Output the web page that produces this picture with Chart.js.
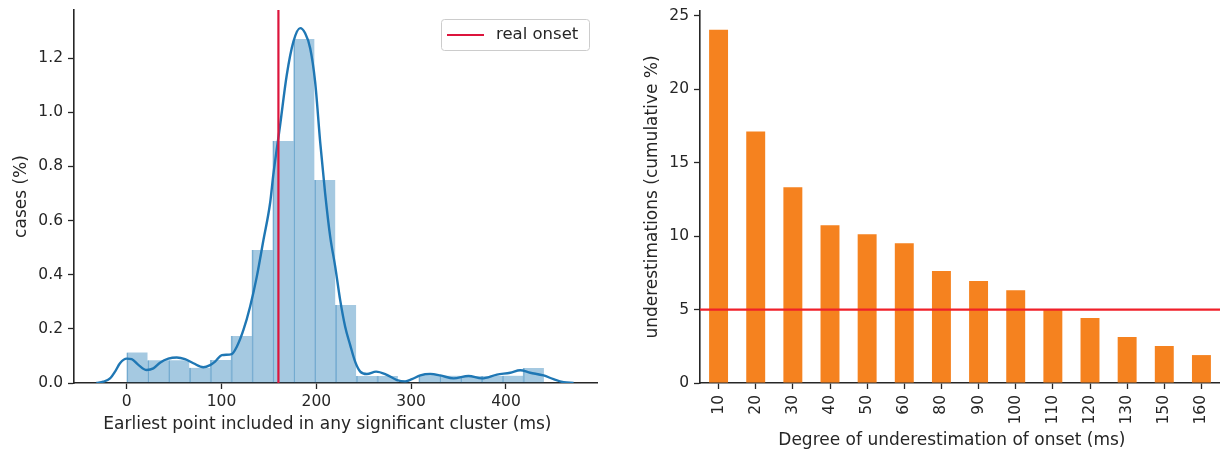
<!DOCTYPE html>
<html>
<head>
<meta charset="utf-8">
<script src="https://cdn.jsdelivr.net/npm/chart.js@4.4.1/dist/chart.umd.min.js"></script>
<style>
    html, body { margin: 0; padding: 0; background: #fff; overflow: hidden; }
    #wrap { position: relative; width: 1220px; height: 454px; }
    .panel { position: absolute; top: 0; width: 610px; height: 454px; }
    #left-panel { left: 0; }
    #right-panel { left: 610px; }
</style>
</head>
<body>
<div id="wrap">
    <div class="panel" id="left-panel"><canvas id="onsetHist"></canvas></div>
    <div class="panel" id="right-panel"><canvas id="underBar"></canvas></div>
</div>
<script>
// ==========================================
// --- data ---
// ==========================================

// left: histogram of earliest significant point (bins of 22 ms)
const binWidthMs = 22;
const binStartsMs = [0, 22, 44, 66, 88, 110, 132, 154, 176, 198, 220, 242, 264, 286, 308, 330, 352, 374, 396, 418];
const binHeights = [0.113, 0.084, 0.084, 0.056, 0.085, 0.174, 0.491, 0.894, 1.271, 0.750, 0.288, 0.026, 0.026, 0, 0.028, 0.027, 0.026, 0.026, 0.027, 0.055];

// left: density estimate
const kdeX = [-32, -24.7, -17.6, -12.3, -7.1, 0, 5.3, 12.3, 21.1, 28.1, 35.1, 43.9, 52.8, 61.5, 70.3, 80.8, 87.9, 93.2, 100.3, 110.8,
    116.1, 123.1, 130.1, 137.2, 144.2, 151.2, 154.6, 161.8, 168.8, 175.8, 182.9, 188.2, 193.5, 198.7, 204.0, 209.3, 214.6, 219.9,
    225.1, 230.4, 235.7, 241.0, 246.3, 253.3, 263.0, 274.4, 285.0, 293.7, 300.8, 309.6, 320.1, 330.7, 344.7, 360.5, 374.6, 390.5,
    404.5, 415.0, 425.6, 439.7, 450.2, 460.8, 471.3];
const kdeY = [0, 0.005, 0.017, 0.042, 0.073, 0.090, 0.088, 0.067, 0.048, 0.054, 0.075, 0.090, 0.094, 0.088, 0.073, 0.058, 0.066, 0.079, 0.103, 0.107,
    0.134, 0.196, 0.282, 0.393, 0.528, 0.664, 0.769, 0.953, 1.138, 1.261, 1.311, 1.292, 1.237, 1.113, 0.892, 0.700, 0.541, 0.430,
    0.307, 0.208, 0.140, 0.078, 0.042, 0.033, 0.042, 0.030, 0.011, 0.006, 0.014, 0.028, 0.033, 0.028, 0.017, 0.026, 0.017, 0.031,
    0.038, 0.047, 0.038, 0.028, 0.014, 0.003, 0];

const realOnsetMs = 160;
const leftXRange = [-55.6, 496];
const leftYRange = [0, 1.378];
const leftXTicks = [0, 100, 200, 300, 400];
const leftYTicks = [0, 0.2, 0.4, 0.6, 0.8, 1.0, 1.2];

// right: cumulative underestimations
const underCategories = ['10', '20', '30', '40', '50', '60', '80', '90', '100', '110', '120', '130', '150', '160'];
const underValues = [24.05, 17.12, 13.32, 10.74, 10.12, 9.52, 7.62, 6.94, 6.32, 5.02, 4.42, 3.13, 2.52, 1.90];
const underThreshold = 5;
const rightYRange = [0, 25.32];
const rightYTicks = [0, 5, 10, 15, 20, 25];

// ==========================================
// --- common styling ---
// ==========================================
const INK = '#262626';
Chart.defaults.font.family = "'DejaVu Sans', sans-serif";
Chart.defaults.color = INK;
Chart.defaults.animation = false;

const tickFont = { size: 15.5 };
const titleFont = { size: 17 };

function axisGrid() {
    return { display: true, offset: false, drawOnChartArea: false, drawTicks: true, tickLength: 6, tickColor: INK, tickWidth: 1.3 };
}
function axisBorder() {
    return { display: true, color: INK, width: 1.6 };
}
function fixedTicks(list) {
    return scale => { scale.ticks = list.map(v => ({ value: v })); };
}
// fixed box size, and no extra room asked for the edge labels
function fixedBox(key, size) {
    return scale => {
        scale[key] = size;
        scale.paddingTop = 0; scale.paddingBottom = 0;
        scale.paddingLeft = 0; scale.paddingRight = 0;
    };
}

// legend box like matplotlib's, drawn for datasets that carry a label
const frameLegend = {
    id: 'frameLegend',
    afterDatasetsDraw(chart, args, opts) {
        const items = chart.data.datasets.filter(d => d.label);
        if (!items.length) return;
        const { ctx, chartArea } = chart;
        const x = chartArea.right - opts.right - opts.width;
        const y = chartArea.top + opts.top;
        const h = opts.height;
        ctx.save();
        ctx.beginPath();
        ctx.roundRect(x + 0.5, y + 0.5, opts.width, h, 3);
        ctx.fillStyle = 'rgba(255,255,255,0.85)';
        ctx.fill();
        ctx.strokeStyle = '#cccccc';
        ctx.lineWidth = 1;
        ctx.stroke();
        items.forEach(d => {
            const cy = y + h / 2 + 0.5;
            ctx.beginPath();
            ctx.moveTo(x + 6, cy);
            ctx.lineTo(x + 43, cy);
            ctx.strokeStyle = d.borderColor;
            ctx.lineWidth = 2.2;
            ctx.stroke();
            ctx.fillStyle = INK;
            ctx.font = "16.5px 'DejaVu Sans'";
            ctx.textBaseline = 'middle';
            ctx.fillText(d.label, x + 55, cy);
        });
        ctx.restore();
    }
};

// ==========================================
// --- left chart: histogram + density ---
// ==========================================
new Chart(document.getElementById('onsetHist'), {
    type: 'bar',
    data: {
        datasets: [
            {
                type: 'line',
                label: 'real onset',
                data: [{ x: realOnsetMs, y: leftYRange[0] }, { x: realOnsetMs, y: leftYRange[1] }],
                borderColor: '#dc143c',
                borderWidth: 2.2,
                pointRadius: 0,
                order: 0
            },
            {
                type: 'line',
                data: kdeX.map((x, i) => ({ x, y: kdeY[i] })),
                borderColor: '#1f77b4',
                borderWidth: 2.4,
                pointRadius: 0,
                tension: 0.35,
                cubicInterpolationMode: 'monotone',
                order: 1
            },
            {
                type: 'bar',
                data: binStartsMs.map((s, i) => ({ x: s + binWidthMs / 2, y: binHeights[i] })),
                backgroundColor: 'rgba(31,119,180,0.4)',
                borderColor: 'rgba(31,119,180,0.5)',
                borderWidth: { left: 1, right: 0, top: 0, bottom: 0 },
                borderSkipped: false,
                barPercentage: 1,
                categoryPercentage: 1,
                grouped: false,
                order: 2
            }
        ]
    },
    options: {
        responsive: true,
        maintainAspectRatio: false,
        layout: { padding: { top: 10, right: 13, left: 0, bottom: 0 } },
        plugins: {
            legend: { display: false },
            tooltip: { enabled: false },
            frameLegend: { right: 8, top: 9, width: 148, height: 31 }
        },
        scales: {
            x: {
                type: 'linear',
                min: leftXRange[0],
                max: leftXRange[1],
                offset: false,
                afterBuildTicks: fixedTicks(leftXTicks),
                afterFit: fixedBox('height', 71),
                grid: axisGrid(),
                border: axisBorder(),
                ticks: { font: tickFont, padding: 4, maxRotation: 0 },
                title: { display: true, text: 'Earliest point included in any significant cluster (ms)   ', font: titleFont, padding: { top: 0, bottom: 19 } }
            },
            y: {
                min: leftYRange[0],
                max: leftYRange[1],
                afterBuildTicks: fixedTicks(leftYTicks),
                afterFit: fixedBox('width', 74),
                grid: axisGrid(),
                border: axisBorder(),
                ticks: { font: tickFont, padding: 5, callback: v => v.toFixed(1) },
                title: { display: true, text: 'cases (%)', font: titleFont, padding: { top: 11, bottom: 0 } }
            }
        }
    },
    plugins: [frameLegend]
});

// ==========================================
// --- right chart: cumulative underestimations ---
// ==========================================
new Chart(document.getElementById('underBar'), {
    type: 'bar',
    data: {
        labels: underCategories,
        datasets: [
            {
                type: 'line',
                data: [{ x: 0, y: underThreshold }, { x: 1, y: underThreshold }],
                xAxisID: 'xLine',
                borderColor: '#f0202a',
                borderWidth: 2.2,
                pointRadius: 0,
                order: 0
            },
            {
                type: 'bar',
                data: underValues,
                backgroundColor: '#f5821f',
                barPercentage: 1,
                categoryPercentage: 0.51,
                grouped: false,
                order: 1
            }
        ]
    },
    options: {
        responsive: true,
        maintainAspectRatio: false,
        layout: { padding: { top: 11, right: 0, left: 0, bottom: 0 } },
        plugins: { legend: { display: false }, tooltip: { enabled: false } },
        scales: {
            x: {
                type: 'category',
                offset: true,
                afterFit: fixedBox('height', 71),
                grid: axisGrid(),
                border: axisBorder(),
                ticks: { font: tickFont, padding: 6, minRotation: 90, maxRotation: 90, autoSkip: false },
                title: { display: true, text: 'Degree of underestimation of onset (ms)   ', font: titleFont, padding: { top: 0, bottom: 3 } }
            },
            xLine: { type: 'linear', display: false, offset: false, min: 0, max: 1 },
            y: {
                min: rightYRange[0],
                max: rightYRange[1],
                afterBuildTicks: fixedTicks(rightYTicks),
                afterFit: fixedBox('width', 90),
                grid: axisGrid(),
                border: axisBorder(),
                ticks: { font: tickFont, padding: 5 },
                title: { display: true, text: 'underestimations (cumulative %)', font: titleFont, padding: { top: 32, bottom: 0 } }
            }
        }
    }
});
</script>
</body>
</html>
